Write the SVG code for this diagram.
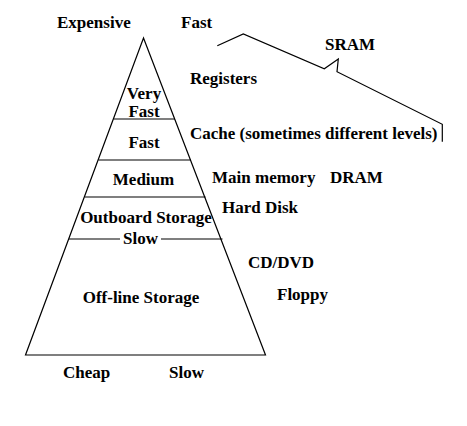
<svg xmlns="http://www.w3.org/2000/svg" width="467" height="426" viewBox="0 0 467 426">
<style>
text{font-family:"Liberation Serif","Times New Roman",serif;font-weight:bold;font-size:17px;fill:#000}
.c{text-anchor:middle}
line,polyline,polygon{stroke:#000;stroke-width:1.2;fill:none}
</style>
<rect width="467" height="426" fill="#fff"/>
<g id="pyramid">
<polygon points="143.5,38 25.5,355 265.5,355"/>
<line x1="114" y1="119" x2="175" y2="119"/>
<line x1="98.5" y1="160" x2="191" y2="160"/>
<line x1="84.8" y1="197" x2="205.5" y2="197"/>
<line x1="69" y1="239" x2="120" y2="239"/>
<line x1="161" y1="239" x2="222.5" y2="239"/>
</g>
<g id="tier-veryfast"><text class="c" x="144" y="99">Very</text><text class="c" x="144" y="117">Fast</text></g>
<g id="tier-fast"><text class="c" x="144" y="148">Fast</text></g>
<g id="tier-medium"><text class="c" x="143.5" y="184.5">Medium</text></g>
<g id="tier-outboard"><text class="c" x="146" y="222.5">Outboard Storage</text></g>
<g id="tier-slow"><text class="c" x="140.5" y="244">Slow</text></g>
<g id="tier-offline"><text class="c" x="141" y="303">Off-line Storage</text></g>
<g id="labels">
<text x="57" y="28">Expensive</text>
<text x="181" y="28">Fast</text>
<text x="325" y="50">SRAM</text>
<text x="190" y="84">Registers</text>
<text x="190" y="139">Cache (sometimes different levels)</text>
<text x="212" y="183">Main memory</text>
<text x="330" y="183">DRAM</text>
<text x="222" y="213">Hard Disk</text>
<text x="248" y="267.5">CD/DVD</text>
<text x="277" y="300">Floppy</text>
<text x="63" y="378">Cheap</text>
<text x="169" y="378">Slow</text>
</g>
<g id="connectors">
<polyline points="217.3,45.7 243.3,34 324.3,68.7 338.3,59 337,71.7 442.3,124.3 442.3,141.7"/>
</g>
</svg>
